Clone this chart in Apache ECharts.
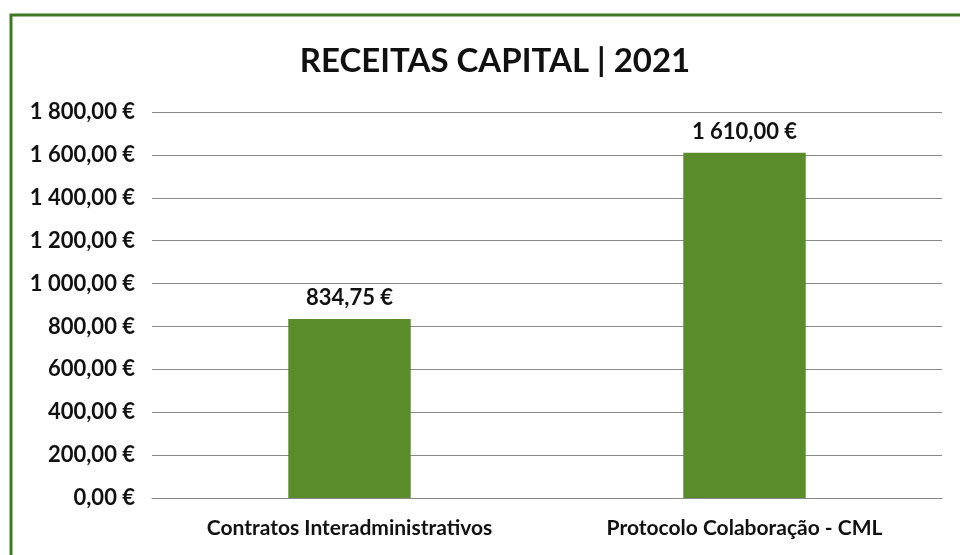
<!DOCTYPE html>
<html>
<head>
<meta charset="utf-8">
<script src="https://cdn.jsdelivr.net/npm/echarts@6/dist/echarts.min.js"></script>
<style>
  html, body { margin: 0; padding: 0; background: #fff; }
  #chart { width: 960px; height: 555px; }
</style>
</head>
<body>
<div id="chart"></div>
<script>
  // dados do gráfico
  const categories = ['Contratos Interadministrativos', 'Protocolo Colaboração - CML'];
  const values = [834.75, 1610.00];
  const chartTitle = 'RECEITAS CAPITAL | 2021';

  // 1 800,00 €
  function euro(v) {
    let parts = Number(v).toFixed(2).split('.');
    let int = parts[0].replace(/\B(?=(\d{3})+(?!\d))/g, ' ');
    return int + ',' + parts[1] + ' €';
  }

  const font = 'Lato, "Open Sans", sans-serif';
  const chart = echarts.init(document.getElementById('chart'));
  chart.setOption({
    animation: false,
    title: {
      text: chartTitle,
      left: 490,
      textAlign: 'center',
      top: 40,
      textStyle: { fontFamily: font, fontSize: 33, fontWeight: 'bold', color: '#111' }
    },
    graphic: [{
      type: 'rect',
      shape: { x: 11, y: 15, width: 960, height: 560 },
      style: { fill: 'none', stroke: '#3d7a22', lineWidth: 3 },
      silent: true
    }],
    grid: { left: 152, right: 18, top: 112, bottom: 57, containLabel: false },
    xAxis: {
      type: 'category',
      data: categories,
      axisLine: { show: true, lineStyle: { color: '#888', width: 1 } },
      axisTick: { show: false },
      axisLabel: { fontFamily: font, fontSize: 21, fontWeight: 'bold', color: '#111', margin: 20 }
    },
    yAxis: {
      type: 'value',
      min: 0,
      max: 1800,
      interval: 200,
      axisLine: { show: false },
      axisTick: { show: false },
      splitLine: { lineStyle: { color: '#888', width: 1 } },
      axisLabel: {
        fontFamily: font, fontSize: 22, fontWeight: 'bold', color: '#111', margin: 17,
        formatter: euro
      }
    },
    series: [{
      type: 'bar',
      data: values,
      barWidth: '31%',
      itemStyle: { color: '#5b8c2b' },
      label: {
        show: true,
        position: 'top',
        distance: 10,
        fontFamily: font, fontSize: 22, fontWeight: 'bold', color: '#111',
        formatter: p => euro(p.value)
      }
    }]
  });
</script>
</body>
</html>
